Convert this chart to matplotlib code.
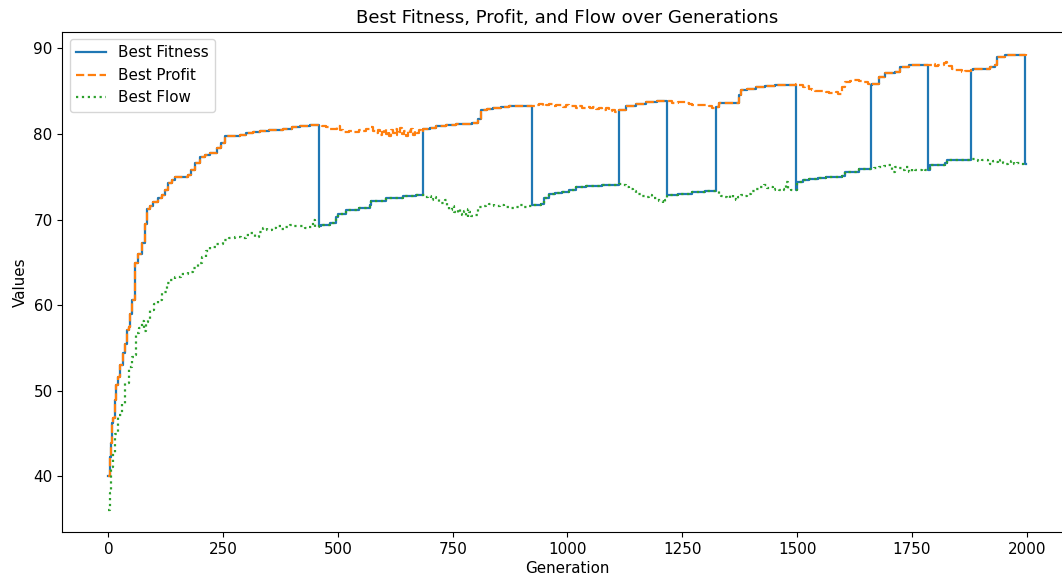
import numpy as np
import matplotlib
matplotlib.use("Agg")
import matplotlib.pyplot as plt

# Best profit per generation (generation, value) - recorded at change points
profit_gen = [
    0, 4, 5, 7, 11, 15, 17, 22, 25, 33, 36, 40, 44, 47, 51, 58, 65, 73, 79, 84, 90, 97,
    108, 116, 124, 130, 138, 145, 173, 181, 189, 199, 210, 221, 236, 246, 254, 286,
    300, 315, 330, 350, 380, 400, 417, 440,
    459, 465, 475, 482, 490, 499, 505, 512, 518, 525, 532, 540, 547, 555, 562, 569,
    576, 583, 588, 592, 596, 600, 604, 608, 612, 616, 620, 624, 628, 632, 636, 640,
    644, 648, 652, 656, 660, 664, 668, 672, 676, 680,
    686, 700, 714, 735, 757, 793, 804, 812, 825, 837, 855, 873, 900,
    922, 930, 938, 946, 953, 960, 968, 975, 982, 990, 996, 1003, 1010, 1018, 1025,
    1032, 1040, 1048, 1055, 1062, 1069, 1076, 1083, 1090, 1098, 1104,
    1112, 1127, 1149, 1170, 1195,
    1217, 1228, 1240, 1257, 1265, 1272, 1285, 1301, 1308, 1315,
    1323, 1330, 1370, 1373, 1377, 1390, 1410, 1430, 1453, 1480,
    1497, 1504, 1512, 1518, 1525, 1532, 1540, 1550, 1562, 1570, 1576, 1584, 1590,
    1598, 1605, 1615, 1625, 1634, 1642, 1649, 1655,
    1660, 1663, 1678, 1692, 1714, 1725, 1743,
    1786, 1793, 1800, 1808, 1815, 1820, 1824, 1826, 1830, 1837, 1845, 1851, 1860,
    1866, 1873,
    1879, 1884, 1902, 1920, 1931, 1935, 1953, 1975, 1999,
]
profit_val = [
    40.0, 42.3, 43.9, 46.2, 46.8, 48.9, 50.7, 51.6, 53.0, 54.4, 55.5, 57.1, 57.5, 59.0,
    60.6, 64.9, 66.0, 67.3, 69.5, 71.3, 71.6, 72.1,
    72.5, 72.9, 73.5, 74.3, 74.6, 75.0, 75.2, 75.8, 76.6, 77.3, 77.5, 77.8, 78.4, 79.0,
    79.8, 79.9, 80.1, 80.3, 80.4, 80.5, 80.65, 80.8, 81.0, 81.05,
    81.1, 81.0, 80.8, 80.65, 80.6, 80.9, 80.5, 80.3, 80.25, 80.4, 80.3, 80.2, 80.5,
    80.4, 80.6, 80.8, 80.4, 80.1, 80.5, 79.9, 80.3, 80.6, 80.0, 80.4, 79.8, 80.5,
    80.1, 80.6, 79.9, 80.3, 80.7, 80.0, 80.4, 79.8, 80.5, 80.2, 80.6, 79.9, 80.4,
    80.1, 80.5, 80.3,
    80.65, 80.75, 80.9, 81.05, 81.2, 81.25, 81.8, 82.8, 82.95, 83.1, 83.2, 83.25, 83.3,
    83.3, 83.4, 83.5, 83.3, 83.4, 83.5, 83.3, 83.4, 83.4, 83.2, 83.4, 83.3, 83.3,
    83.1, 83.3, 83.1, 83.2, 83.0, 83.2, 82.9, 83.0, 82.8, 83.0, 82.7, 82.8, 82.6,
    82.8, 83.25, 83.5, 83.75, 83.85,
    83.85, 83.6, 83.7, 83.6, 83.5, 83.4, 83.45, 83.4, 83.25, 83.05,
    83.2, 83.6, 83.65, 84.55, 85.1, 85.3, 85.5, 85.6, 85.7, 85.75,
    85.8, 85.7, 85.5, 85.6, 85.3, 85.2, 85.05, 85.0, 84.9, 84.8, 84.75, 84.9, 84.7,
    85.5, 86.1, 86.2, 86.3, 86.25, 86.1, 86.1, 85.9,
    85.7, 85.9, 86.7, 87.1, 87.3, 87.85, 88.1,
    88.1, 88.2, 88.0, 88.1, 88.05, 88.3, 88.4, 88.1, 87.9, 87.65, 87.5, 87.45, 87.3,
    87.4, 87.35,
    87.45, 87.55, 87.65, 87.85, 88.05, 89.0, 89.2, 89.25, 89.3,
]

# Best flow per generation (generation, value) - recorded at change points
flow_gen = [
    0, 3, 5, 10, 15, 22, 29, 36, 44, 51, 56, 60, 66, 73, 78, 82, 87, 91, 100, 108, 116,
    122, 127, 135, 145, 158, 173, 185, 195, 205, 213, 221, 235, 249, 262, 275, 290,
    300, 308, 319, 328, 336, 345, 356, 366, 375, 385, 395, 405, 417, 428, 437, 445, 450,
    459, 464, 482, 496, 500, 518, 547, 569, 573, 605, 641, 670,
    686, 690, 696, 703, 708, 714, 720, 728, 733, 738, 743, 748, 752, 757, 761, 765,
    770, 775, 779, 783, 786, 790, 795, 801, 805, 808, 815, 822, 830, 840, 852, 862,
    873, 885, 895, 905, 912,
    922, 942, 949, 960, 972, 989, 1004, 1018, 1040, 1076, 1095,
    1112, 1120, 1127, 1134, 1142, 1150, 1156, 1163, 1170, 1178, 1185, 1192, 1200,
    1207, 1212,
    1217, 1240, 1272, 1300,
    1323, 1330, 1335, 1340, 1348, 1355, 1360, 1366, 1372, 1377, 1385, 1392, 1400,
    1410, 1418, 1428, 1435, 1440, 1447, 1453, 1460, 1467, 1472, 1476, 1480, 1487,
    1497, 1500, 1512, 1525, 1545, 1562, 1598, 1605, 1634,
    1660, 1668, 1678, 1690, 1699, 1707, 1714, 1721, 1730, 1736, 1743, 1750, 1757,
    1765, 1772, 1779,
    1786, 1790, 1823, 1826,
    1879, 1888, 1895, 1902, 1910, 1916, 1920, 1926, 1931, 1937, 1942, 1948, 1953,
    1960, 1966, 1972, 1978, 1985, 1990,
    1996, 1999,
]
flow_val = [
    36.1, 38.0, 41.1, 42.7, 45.0, 47.2, 48.5, 50.9, 52.8, 54.0, 54.2, 56.7, 57.3, 58.1,
    57.0, 58.0, 58.3, 59.4, 60.2, 60.6, 61.4,
    61.6, 62.6, 63.0, 63.3, 63.6, 63.9, 64.3, 64.9, 65.6, 66.3, 66.8, 67.2, 67.6, 67.8,
    68.0, 67.9, 68.2, 68.4, 68.0, 68.5, 69.0, 68.8, 69.0, 69.2, 68.9, 69.1, 69.4, 69.2,
    69.2, 69.0, 69.1, 69.9, 69.1,
    69.2, 69.35, 69.6, 70.3, 70.7, 71.1, 71.4, 71.7, 72.2, 72.5, 72.75, 72.9,
    72.9, 72.6, 72.75, 72.3, 72.6, 72.5, 72.0, 71.9, 72.3, 71.5, 71.1, 71.6, 70.9,
    70.8, 71.2, 70.7, 70.5, 71.0, 70.3, 71.3, 70.9, 70.4, 70.6, 70.5, 71.2, 71.5,
    71.6, 71.7, 71.8, 71.6, 71.7, 71.5, 71.4, 71.5, 71.7, 71.5, 71.6,
    71.7, 71.8, 72.5, 73.0, 73.1, 73.25, 73.45, 73.8, 73.95, 74.0, 74.1,
    74.15, 74.0, 73.8, 73.6, 73.4, 73.0, 73.05, 72.8, 72.7, 72.9, 72.5, 72.5, 72.2,
    72.0, 72.3,
    72.9, 73.0, 73.25, 73.35,
    73.35, 73.05, 72.8, 72.7, 72.5, 72.9, 72.4, 72.3, 72.6, 72.9, 72.8, 73.05, 73.3,
    73.6, 73.8, 74.0, 73.7, 73.8, 73.5, 73.6, 73.5, 73.6, 73.5, 74.4, 73.6, 73.5,
    73.45, 74.4, 74.6, 74.8, 74.9, 75.0, 75.1, 75.6, 75.9,
    75.9, 76.0, 76.2, 76.3, 76.4, 75.6, 76.1, 76.0, 75.8, 76.1, 75.6, 75.9, 75.85,
    75.8, 75.9, 75.85,
    75.8, 76.4, 76.6, 76.95,
    77.05, 77.0, 76.8, 77.0, 76.95, 76.7, 76.55, 76.8, 76.75, 76.6, 76.95, 76.6, 76.5,
    76.65, 76.8, 76.5, 76.6, 76.5, 76.55,
    76.5, 76.5,
]

# Generations where the fitness objective switches, starting with profit
switch_gen = [0, 459, 686, 922, 1112, 1217, 1323, 1497, 1660, 1786, 1879, 1996, 2000]
first_objective = "profit"

profit_gen = np.array(profit_gen)
profit_val = np.array(profit_val)
flow_gen = np.array(flow_gen)
flow_val = np.array(flow_val)

# Best fitness follows whichever objective is active in each phase
series = {"profit": (profit_gen, profit_val), "flow": (flow_gen, flow_val)}
fit_gen, fit_val = [], []
active = first_objective
for start, stop in zip(switch_gen[:-1], switch_gen[1:]):
    g, v = series[active]
    mask = (g >= start) & (g < stop)
    fit_gen.extend(g[mask])
    fit_val.extend(v[mask])
    active = "flow" if active == "profit" else "profit"

plt.rcParams["font.size"] = 10.9

fig = plt.figure(figsize=(10.62, 5.8), dpi=100)
ax = fig.add_axes([0.0588, 0.0819, 0.9507, 0.8634])

ax.plot(fit_gen, fit_val, drawstyle="steps-post", lw=1.6, label="Best Fitness")
ax.plot(profit_gen, profit_val, drawstyle="steps-post", lw=1.6, linestyle="--",
        label="Best Profit")
ax.plot(flow_gen, flow_val, drawstyle="steps-post", lw=1.6, linestyle=":",
        label="Best Flow")

ax.set_title("Best Fitness, Profit, and Flow over Generations")
ax.set_xlabel("Generation", labelpad=3)
ax.set_ylabel("Values")
ax.legend(loc="upper left")

fig.savefig("out.png", dpi=100)
